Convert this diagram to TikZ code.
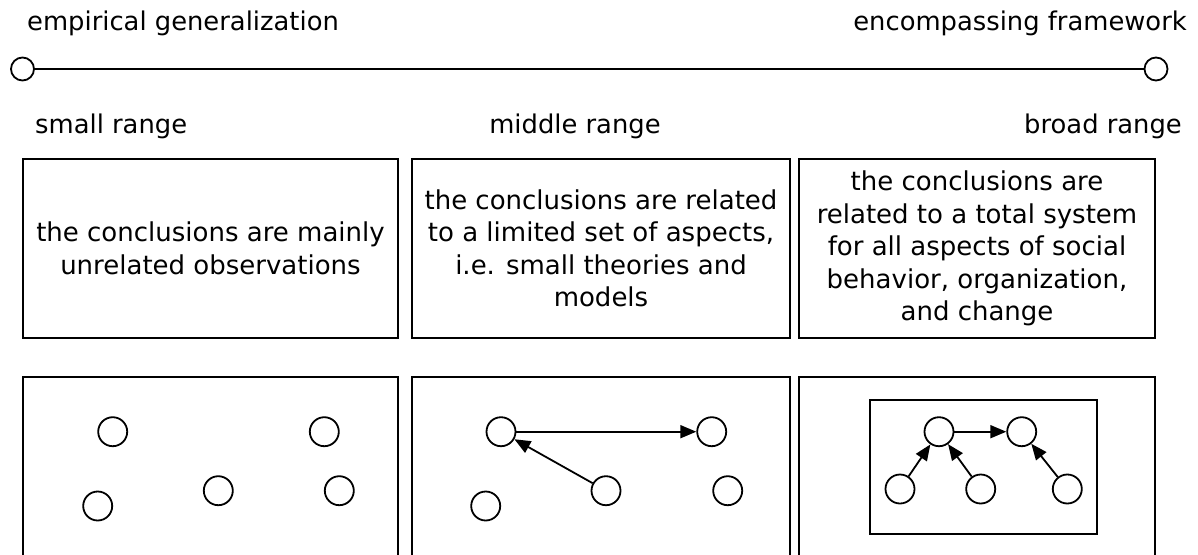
\documentclass[tikz,border=0pt]{standalone}
\usepackage{fontspec}
\setmainfont{DejaVu Sans}
\usetikzlibrary{arrows.meta}
\tikzset{
  box/.style={draw, line width=1.9pt, rectangle, inner sep=0pt},
  dot/.style={draw, line width=1.8pt, circle, minimum size=29pt, inner sep=0pt},
  enddot/.style={draw, line width=1.8pt, circle, minimum size=23pt, inner sep=0pt},
  link/.style={line width=1.8pt, -{Triangle[length=16pt,width=13pt]}},
  lbl/.style={inner sep=0pt, font=\fontsize{25.8}{31}\selectfont},
  btext/.style={inner sep=0pt, align=center, font=\fontsize{26}{32.5}\selectfont}
}
\begin{document}
\begin{tikzpicture}[x=1pt,y=-1pt]
\clip (0,0) rectangle (1198,554);
\fill[white] (0,0) rectangle (1198,554);
% top scale
\node[lbl, anchor=base west] (eg) at (27,30) {empirical generalization};
\node[lbl, anchor=base east] (ef) at (1187,30) {encompassing framework};
\node[enddot] (l) at (22.5,69) {};
\node[enddot] (r) at (1156,69) {};
\draw[line width=1.8pt] (l) -- (r);
\node[lbl, anchor=base west] (sr) at (35,133.5) {small range};
\node[lbl, anchor=base] (mr) at (575,133.5) {middle range};
\node[lbl, anchor=base east] (br) at (1182,133.5) {broad range};
% text boxes
\node[box, minimum width=375pt, minimum height=179pt] (t1) at (210.5,248.5) {};
\node[btext] at (t1.center) {the conclusions are mainly\\unrelated observations};
\node[box, minimum width=378pt, minimum height=179pt] (t2) at (601,248.5) {};
\node[btext] at (t2.center) {the conclusions are related\\to a limited set of aspects,\\i.e. small theories and\\models};
\node[box, minimum width=356pt, minimum height=179pt] (t3) at (977,248.5) {};
\node[btext] at (t3.center) {the conclusions are\\related to a total system\\for all aspects of social\\behavior, organization,\\and change};
% picture boxes
\node[box, minimum width=375pt, minimum height=200pt] (p1) at (210.5,477) {};
\node[box, minimum width=378pt, minimum height=200pt] (p2) at (601,477) {};
\node[box, minimum width=356pt, minimum height=200pt] (p3) at (977,477) {};
% box 1 circles
\node[dot] (a1) at (112.7,431.7) {};
\node[dot] (a2) at (324.3,431.7) {};
\node[dot] (a3) at (97.7,506) {};
\node[dot] (a4) at (218.3,490.7) {};
\node[dot] (a5) at (339.3,490.7) {};
% box 2 circles
\node[dot] (b1) at (501,431.7) {};
\node[dot] (b2) at (711.7,431.7) {};
\node[dot] (b3) at (606,490.7) {};
\node[dot] (b4) at (727.7,490.7) {};
\node[dot] (b5) at (485.7,506) {};
\draw[link] (b1) -- (b2);
\draw[link] (b3) -- (b1);
% box 3
\node[box, minimum width=227pt, minimum height=134pt] (inner) at (983.6,467) {};
\node[dot] (c1) at (939,431.7) {};
\node[dot] (c2) at (1021.7,431.7) {};
\node[dot] (c3) at (900,489) {};
\node[dot] (c4) at (980.7,489) {};
\node[dot] (c5) at (1067.3,489) {};
\draw[link] (c1) -- (c2);
\draw[link] (c3) -- (c1);
\draw[link] (c4) -- (c1);
\draw[link] (c5) -- (c2);
\end{tikzpicture}
\end{document}
